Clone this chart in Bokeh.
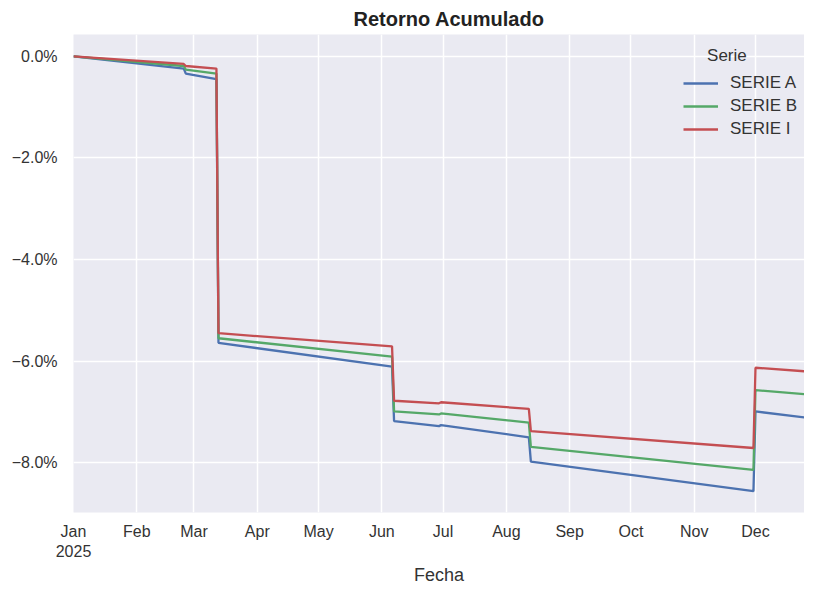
from datetime import datetime
from bokeh.plotting import figure
from bokeh.models import (Range1d, DatetimeTickFormatter, MonthsTicker, FixedTicker,
                          CustomJSTickFormatter, Legend, LegendItem, Label)
from bokeh.embed import file_html
from bokeh.resources import INLINE

# ---- data (percent) ----
dates = ["2025-01-01", "2025-02-24", "2025-02-25", "2025-03-12", "2025-03-13",
         "2025-06-06", "2025-06-07", "2025-06-29", "2025-06-30", "2025-08-12",
         "2025-08-13", "2025-11-30", "2025-12-01", "2025-12-25"]
serie_a = [0.0, -0.24, -0.34, -0.45, -5.64, -6.11, -7.18, -7.28, -7.26, -7.50,
           -7.98, -8.56, -6.99, -7.11]
serie_b = [0.0, -0.19, -0.26, -0.34, -5.55, -5.91, -6.99, -7.05, -7.03, -7.21,
           -7.69, -8.14, -6.57, -6.65]
serie_i = [0.0, -0.15, -0.19, -0.24, -5.45, -5.71, -6.78, -6.83, -6.81, -6.94,
           -7.38, -7.71, -6.13, -6.20]
series_names = ["SERIE A", "SERIE B", "SERIE I"]
y_ticks = [0, -2, -4, -6, -8]

x = [datetime.strptime(d, "%Y-%m-%d") for d in dates]
colors = ["#4C72B0", "#55A868", "#C44E52"]
FONT = "Liberation Sans"
TXT = "#333333"

p = figure(width=804, height=587, x_axis_type="datetime",
           output_backend="svg", toolbar_location=None,
           x_range=Range1d(datetime(2025, 1, 1), datetime(2025, 12, 25)),
           y_range=Range1d(-8.98, 0.43),
           title="Retorno Acumulado")
p.min_border_left = 73
p.min_border_right = 0
p.min_border_top = 0
p.min_border_bottom = 0
p.background_fill_color = "#EAEAF2"
p.border_fill_color = "white"
p.outline_line_color = None

p.title.align = "left"
p.title.offset = 280
p.title.text_font = FONT
p.title.text_font_size = "20px"
p.title.text_font_style = "bold"
p.title.text_color = "#222222"
p.title.standoff = 10

month_ticker = MonthsTicker(months=list(range(12)))
p.xaxis.ticker = month_ticker
p.xaxis.formatter = DatetimeTickFormatter(months="%b", context="%Y", context_which="start")
p.yaxis.ticker = FixedTicker(ticks=y_ticks)
p.yaxis.formatter = CustomJSTickFormatter(code="""
    const s = Math.abs(tick).toFixed(1) + '%';
    return (tick < -1e-9 ? '\u2212' : '') + s;
""")

for ax in (p.xaxis[0], p.yaxis[0]):
    ax.axis_line_color = None
    ax.major_tick_line_color = None
    ax.minor_tick_line_color = None
    ax.major_label_text_font = FONT
    ax.major_label_text_font_size = "16px"
    ax.major_label_text_color = TXT
    ax.axis_label_text_font = FONT
    ax.axis_label_text_font_size = "18px"
    ax.axis_label_text_font_style = "normal"
    ax.axis_label_text_color = TXT
p.yaxis.major_label_standoff = 10
p.xaxis.major_label_standoff = 4
p.xaxis.axis_label = "Fecha"
p.xaxis.axis_label_standoff = 2

p.xgrid.ticker = month_ticker
p.ygrid.ticker = FixedTicker(ticks=y_ticks)
for g in (p.xgrid[0], p.ygrid[0]):
    g.grid_line_color = "white"
    g.grid_line_width = 1.5

items = []
for name, ys, c in zip(series_names, [serie_a, serie_b, serie_i], colors):
    r = p.line(x, ys, line_color=c, line_width=2.3)
    items.append(LegendItem(label=name, renderers=[r]))

legend = Legend(items=items, location=(610, 373),
                background_fill_alpha=0, border_line_color=None,
                label_text_font=FONT, label_text_font_size="17px",
                label_text_color=TXT, glyph_width=35, label_standoff=12,
                spacing=3, padding=10, margin=0)
p.add_layout(legend, "center")

p.add_layout(Label(x=datetime(2025, 11, 17), y=0.02, text="Serie",
                   text_align="center", text_baseline="middle",
                   text_font=FONT, text_font_size="17px", text_color=TXT))

open("out.html", "w").write(file_html(p, INLINE))
